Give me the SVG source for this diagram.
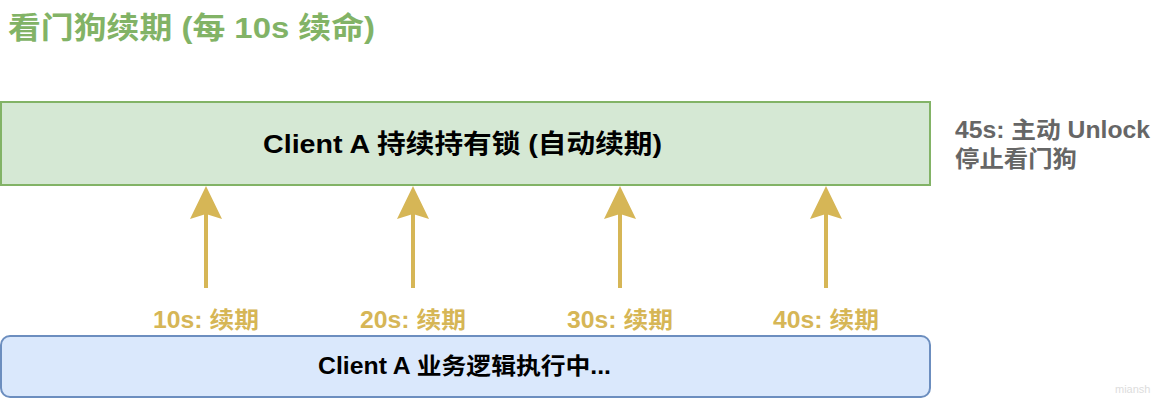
<svg xmlns="http://www.w3.org/2000/svg" width="1152" height="407" viewBox="0 0 1152 407">
<style>
text{font-family:"Liberation Sans","Noto Sans CJK SC",sans-serif;font-weight:bold}
.lbl{fill:#d6b656;font-size:23px}
.arr{stroke:#d6b656;stroke-width:4;fill:none}
</style>
<defs>
<marker id="ah" markerUnits="userSpaceOnUse" markerWidth="34" markerHeight="34" viewBox="0 0 34 34" refX="9" refY="17" orient="auto">
<path d="M33,17 L0,1 L5,17 L0,33 Z" fill="#d6b656"/>
</marker>
</defs>
<rect width="1152" height="407" fill="#ffffff"/>
<text x="8" y="38" font-size="30" fill="#82b366" textLength="367" lengthAdjust="spacingAndGlyphs">看门狗续期 (每 10s 续命)</text>
<g id="hold">
<rect x="1" y="102" width="929" height="83" fill="#d5e8d4" stroke="#82b366" stroke-width="2"/>
<text x="263" y="153" font-size="26" fill="#000" textLength="399" lengthAdjust="spacingAndGlyphs">Client A 持续持有锁 (自动续期)</text>
</g>
<g id="biz">
<rect x="1" y="336" width="929" height="61" rx="9" fill="#dae8fc" stroke="#6c8ebf" stroke-width="2"/>
<text x="318" y="374" font-size="23" fill="#000" textLength="293" lengthAdjust="spacingAndGlyphs">Client A 业务逻辑执行中...</text>
</g>
<g id="note">
<text x="955" y="138" font-size="23" fill="#666666" textLength="195" lengthAdjust="spacingAndGlyphs">45s: 主动 Unlock</text>
<text x="955" y="167" font-size="23" fill="#666666" textLength="122" lengthAdjust="spacingAndGlyphs">停止看门狗</text>
</g>
<g id="connectors">
<line class="arr" x1="206" y1="288" x2="206" y2="210" marker-end="url(#ah)"/>
<line class="arr" x1="413" y1="288" x2="413" y2="210" marker-end="url(#ah)"/>
<line class="arr" x1="620" y1="288" x2="620" y2="210" marker-end="url(#ah)"/>
<line class="arr" x1="826" y1="288" x2="826" y2="210" marker-end="url(#ah)"/>
</g>
<g id="labels">
<text class="lbl" x="153" y="328" textLength="106" lengthAdjust="spacingAndGlyphs">10s: 续期</text>
<text class="lbl" x="360" y="328" textLength="106" lengthAdjust="spacingAndGlyphs">20s: 续期</text>
<text class="lbl" x="567" y="328" textLength="106" lengthAdjust="spacingAndGlyphs">30s: 续期</text>
<text class="lbl" x="773" y="328" textLength="106" lengthAdjust="spacingAndGlyphs">40s: 续期</text>
</g>
<text x="1115" y="393" font-size="11" fill="#dddddd" style="font-weight:normal">miansh</text>
</svg>
